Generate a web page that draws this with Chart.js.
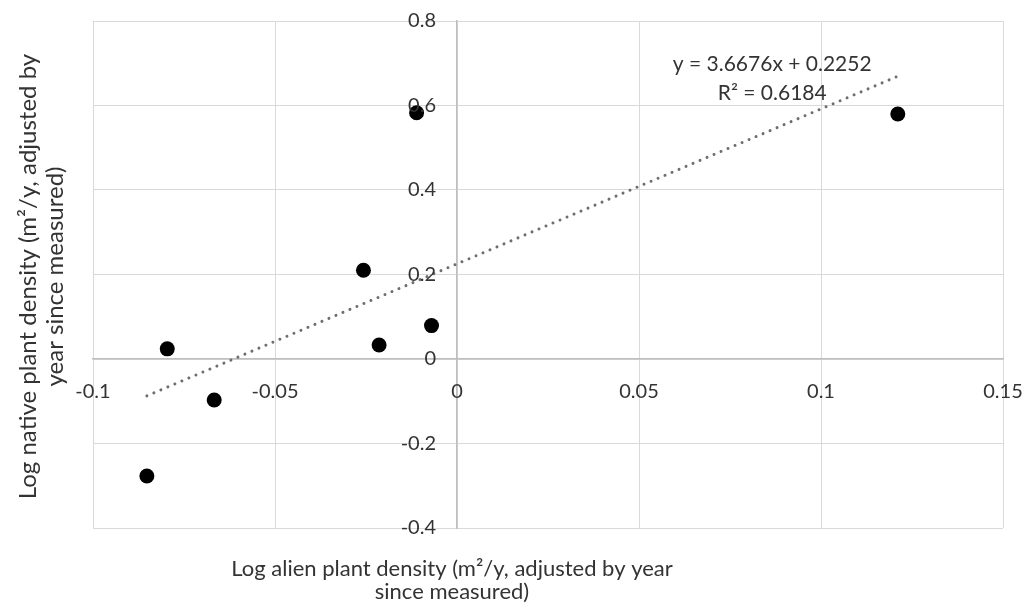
<!DOCTYPE html>
<html>
<head>
<meta charset="utf-8">
<script src="https://cdn.jsdelivr.net/npm/chart.js@4"></script>
<style>
  html, body { margin: 0; padding: 0; background: #fff; }
  #wrap { width: 1029px; height: 612px; }
</style>
</head>
<body>
<div id="wrap"><canvas id="chart"></canvas></div>
<script>
// values
const alienDensity = [-0.0852, -0.0796, -0.0667, -0.0257, -0.0214, -0.0111, -0.007, 0.1211];
const nativeDensity = [-0.277, 0.024, -0.097, 0.21, 0.033, 0.583, 0.079, 0.58];

// linear trendline shown on the chart
const trendSlope = 3.6676;
const trendIntercept = 0.2252;
const trendLabel = ["y = 3.6676x + 0.2252", "R\u00b2 = 0.6184"];

const xTitle = ["Log alien plant density (m\u00b2/y, adjusted by year", "since measured)"];
const yTitle = ["Log native plant density (m\u00b2/y, adjusted by", "year since measured)"];

const FONT = "Lato, 'Open Sans', sans-serif";
const TEXT = "#333333";

const points = alienDensity.map((x, i) => ({ x: x, y: nativeDensity[i] }));
const xLo = Math.min(...alienDensity);
const xHi = Math.max(...alienDensity);
const trend = [xLo, xHi].map((x) => ({ x: x, y: trendSlope * x + trendIntercept }));

const fmt = (v) => String(parseFloat(Number(v).toFixed(4)));

// tick labels set off from the crossing axes, axis titles and trendline label
const textPlugin = {
  id: "textPlugin",
  afterDraw(chart) {
    const { ctx, chartArea, scales } = chart;
    const axisX = scales.x.getPixelForValue(0);
    const axisY = scales.y.getPixelForValue(0);
    ctx.save();
    ctx.fillStyle = TEXT;
    ctx.textBaseline = "middle";
    ctx.font = "20px " + FONT;

    ctx.textAlign = "right";
    scales.y.ticks.forEach((t) => {
      ctx.fillText(fmt(t.value), axisX - 21, scales.y.getPixelForValue(t.value));
    });

    ctx.textAlign = "center";
    scales.x.ticks.forEach((t) => {
      ctx.fillText(fmt(t.value), scales.x.getPixelForValue(t.value), axisY + 33);
    });

    // trendline equation
    ctx.font = "21px " + FONT;
    const lx = scales.x.getPixelForValue(0.0866);
    const ly = scales.y.getPixelForValue(0.698);
    ctx.fillText(trendLabel[0], lx, ly);
    ctx.fillText(trendLabel[1], lx, ly + 29);

    // x axis title
    ctx.font = "22px " + FONT;
    const tx = chartArea.left + 359;
    xTitle.forEach((line, i) => ctx.fillText(line, tx, chartArea.bottom + 41 + i * 23));

    // y axis title
    ctx.font = "24px " + FONT;
    const ty = (chartArea.top + chartArea.bottom) / 2 + 2;
    ctx.translate(0, ty);
    ctx.rotate(-Math.PI / 2);
    yTitle.forEach((line, i) => ctx.fillText(line, 0, 28 + i * 27));
    ctx.restore();
  },
};

new Chart(document.getElementById("chart"), {
  type: "scatter",
  data: {
    datasets: [
      {
        label: "Sites",
        data: points,
        backgroundColor: "#000000",
        borderWidth: 0,
        pointRadius: 7.5,
        pointHoverRadius: 7.5,
        order: 1,
      },
      {
        label: "Linear trend",
        data: trend,
        showLine: true,
        borderColor: "#6e6e6e",
        borderWidth: 3,
        borderDash: [0.01, 7.6],
        borderCapStyle: "round",
        pointRadius: 0,
        order: 2,
      },
    ],
  },
  plugins: [textPlugin],
  options: {
    responsive: true,
    maintainAspectRatio: false,
    animation: false,
    layout: { padding: { left: 93, right: 26, top: 21, bottom: 84 } },
    plugins: {
      legend: { display: false },
      tooltip: { enabled: false },
    },
    scales: {
      x: {
        type: "linear",
        position: { y: 0 },
        min: -0.1,
        max: 0.15,
        ticks: { stepSize: 0.05, autoSkip: false, display: false },
        grid: { color: "#d9d9d9", lineWidth: 1, drawTicks: false },
        border: { display: true, color: "#bfbfbf", width: 1.5 },
      },
      y: {
        type: "linear",
        position: { x: 0 },
        min: -0.4,
        max: 0.8,
        ticks: { stepSize: 0.2, autoSkip: false, display: false },
        grid: { color: "#d9d9d9", lineWidth: 1, drawTicks: false },
        border: { display: true, color: "#bfbfbf", width: 1.5 },
      },
    },
  },
});
</script>
</body>
</html>
